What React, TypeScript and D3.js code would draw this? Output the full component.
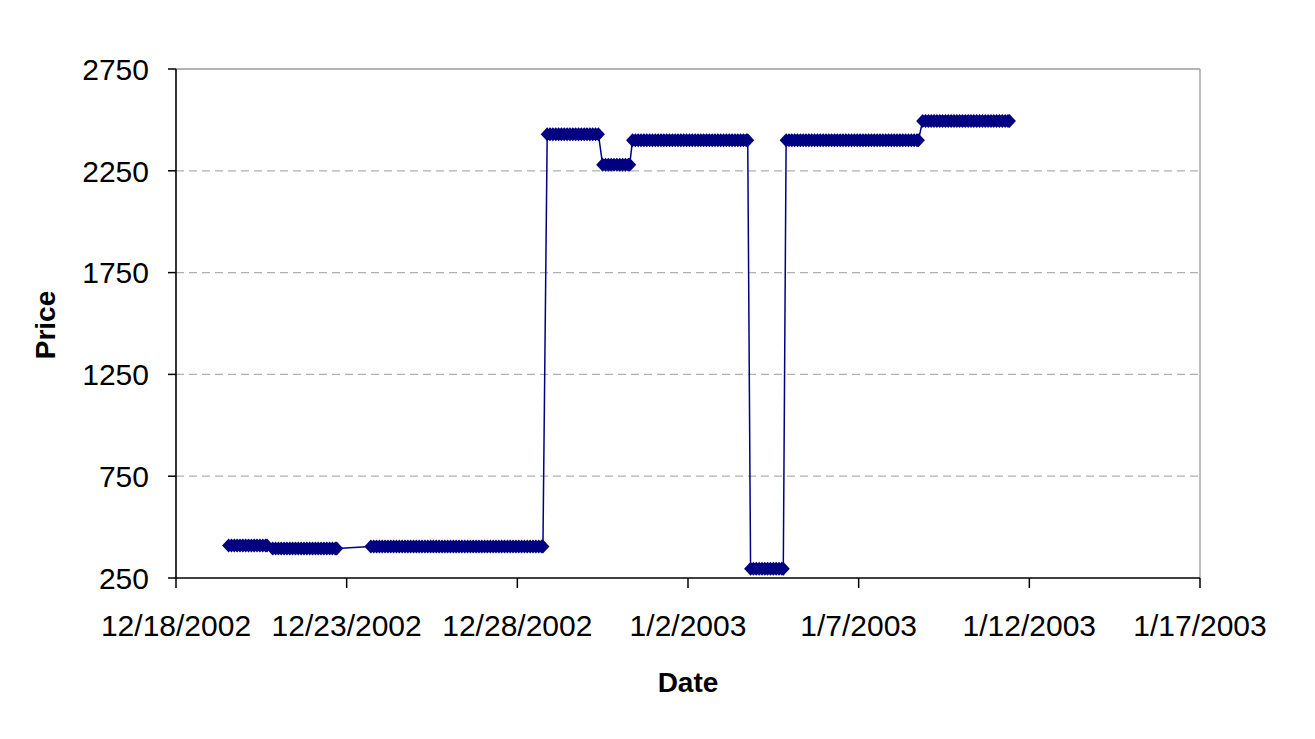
import React from "react";
import * as d3 from "d3";

// ---- data ----
const segStart = [
  "2002-12-19 13:00", "2002-12-20 20:00", "2002-12-23 17:00", "2002-12-28 21:00",
  "2002-12-30 12:00", "2002-12-31 09:00", "2003-01-03 20:00", "2003-01-04 21:00",
  "2003-01-08 21:00",
];
const segEnd = [
  "2002-12-20 16:00", "2002-12-22 17:00", "2002-12-28 18:00", "2002-12-30 09:00",
  "2002-12-31 07:00", "2003-01-03 18:00", "2003-01-04 19:00", "2003-01-08 18:00",
  "2003-01-11 10:00",
];
const segPrice = [410, 395, 405, 2430, 2280, 2400, 295, 2400, 2495];
const sampleHours = 2; // observation interval within each segment

const xTickLabels = ["12/18/2002", "12/23/2002", "12/28/2002", "1/2/2003", "1/7/2003", "1/12/2003", "1/17/2003"];
const yTicks = [250, 750, 1250, 1750, 2250, 2750];

// ---- layout ----
const W = 1315, H = 739;
const left = 176, right = 1200, top = 69, bottom = 578;
const NAVY = "#000080";
const FONT = "'Liberation Sans', Arial, sans-serif";

const parse = d3.timeParse("%Y-%m-%d %H:%M");
const parseTick = d3.timeParse("%m/%d/%Y");

export default function App() {
  const tickDates = xTickLabels.map((s) => parseTick(s) as Date);
  const x = d3.scaleTime().domain([tickDates[0], tickDates[tickDates.length - 1]]).range([left, right]);
  const y = d3.scaleLinear().domain([250, 2750]).range([bottom, top]);

  const points: { t: Date; v: number }[] = [];
  segStart.forEach((s, i) => {
    const a = parse(s) as Date;
    const b = parse(segEnd[i]) as Date;
    const ts = d3.timeHour.range(a, b, sampleHours);
    if (ts.length === 0 || +ts[ts.length - 1] !== +b) ts.push(b);
    ts.forEach((t) => points.push({ t, v: segPrice[i] }));
  });

  const line = d3.line<{ t: Date; v: number }>().x((d) => x(d.t)).y((d) => y(d.v));
  const diamond = "M0,-7L6.5,0L0,7L-6.5,0Z";

  return (
    <svg width={W} height={H} style={{ position: "absolute", left: 0, top: 0, background: "#fff" }}>
      {/* gridlines */}
      {yTicks.slice(1, -1).map((v) => (
        <line key={v} x1={left} x2={right} y1={y(v)} y2={y(v)} stroke="#b0b0b0" strokeWidth={1.3} strokeDasharray="8,5" />
      ))}
      {/* plot border top/right */}
      <line x1={left} x2={right} y1={y(2750)} y2={y(2750)} stroke="#9a9a9a" strokeWidth={1.3} />
      <line x1={right} x2={right} y1={top} y2={bottom} stroke="#9a9a9a" strokeWidth={1.3} />
      {/* axes */}
      <line x1={left} x2={left} y1={top} y2={bottom} stroke="#000" strokeWidth={1.6} />
      <line x1={left} x2={right} y1={bottom} y2={bottom} stroke="#000" strokeWidth={1.6} />
      {yTicks.map((v) => (
        <g key={v}>
          <line x1={left - 8} x2={left} y1={y(v)} y2={y(v)} stroke="#000" strokeWidth={1.5} />
          <text x={149} y={y(v)} dy="0.36em" textAnchor="end" fontFamily={FONT} fontSize={30} fill="#000">{v}</text>
        </g>
      ))}
      {tickDates.map((d, i) => (
        <g key={i}>
          <line x1={x(d)} x2={x(d)} y1={bottom} y2={bottom + 10} stroke="#000" strokeWidth={1.5} />
          <text x={x(d)} y={636} textAnchor="middle" fontFamily={FONT} fontSize={30} fill="#000">{xTickLabels[i]}</text>
        </g>
      ))}
      {/* axis titles */}
      <text x={688} y={692} textAnchor="middle" fontFamily={FONT} fontSize={28} fontWeight="bold">Date</text>
      <text transform="translate(55,325) rotate(-90)" textAnchor="middle" fontFamily={FONT} fontSize={28} fontWeight="bold">Price</text>
      {/* series */}
      <path d={line(points) || ""} fill="none" stroke={NAVY} strokeWidth={1.5} />
      {points.map((p, i) => (
        <path key={i} d={diamond} transform={`translate(${x(p.t)},${y(p.v)})`} fill={NAVY} />
      ))}
    </svg>
  );
}
